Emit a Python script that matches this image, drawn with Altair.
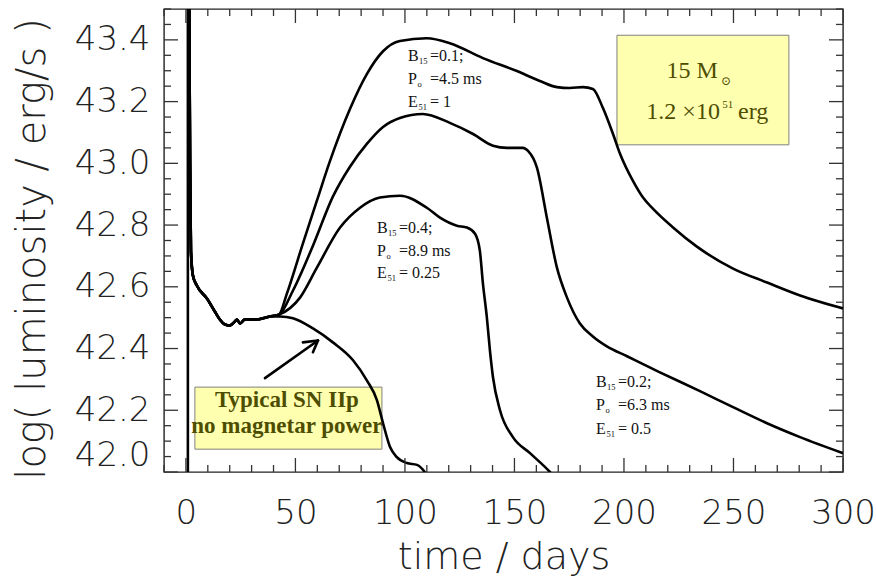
import altair as alt
import pandas as pd

# ---------------- light-curve data (time in days, log10 L in erg/s) ----------------
# shock-breakout spike
spike_day = [0.9, 0.9]
spike_lum = [41.8, 43.7]

# common early cooling phase into the plateau
early_day = [1.4, 1.9, 2.3, 3.2, 5.0, 9.6, 13.2, 15.5, 17.8, 20.1, 22.4, 23.3, 24.7, 26.9, 32.4, 38.4]
early_lum = [43.7, 43.0, 42.717, 42.637, 42.604, 42.562, 42.520, 42.494, 42.478, 42.475, 42.488,
             42.494, 42.481, 42.494, 42.494, 42.504]

# typical SN IIp, no magnetar
iip_day = [42.9, 48.9, 58.0, 67.1, 76.3, 82.6, 87.2, 90.0, 93.2, 96.3, 100.9, 105.5, 109.0, 111.4]
iip_lum = [42.504, 42.498, 42.465, 42.420, 42.362, 42.297, 42.233, 42.158, 42.081, 42.048,
           42.029, 42.023, 42.0, 41.97]

# B15 = 0.1, P0 = 4.5 ms
b01_day = [42.5, 46.1, 53.4, 59.8, 65.8, 74.9, 82.6, 90.0, 97.7, 110.0, 120.5, 135.6, 151.1,
           161.6, 169.4, 175.3, 181.3, 185.8, 190.4, 195.0, 198.2, 204.1, 208.7, 213.2, 222.4,
           233.3, 249.8, 265.3, 280.4, 300.0]
b01_lum = [42.51, 42.578, 42.74, 42.879, 43.008, 43.176, 43.289, 43.363, 43.396, 43.405, 43.389,
           43.341, 43.299, 43.267, 43.247, 43.244, 43.247, 43.241, 43.179, 43.095, 43.031, 42.943,
           42.889, 42.853, 42.792, 42.730, 42.659, 42.614, 42.572, 42.530]

# B15 = 0.2, P0 = 6.3 ms
b02_day = [42.5, 48.9, 58.0, 67.1, 74.9, 82.6, 90.0, 97.7, 108.2, 120.5, 131.1, 140.2, 146.6,
           153.9, 156.2, 160.3, 164.8, 169.4, 174.0, 179.9, 185.8, 192.2, 201.4, 216.4, 234.7,
           249.8, 265.3, 280.4, 300.0]
b02_lum = [42.51, 42.588, 42.733, 42.892, 42.989, 43.063, 43.118, 43.147, 43.160, 43.131, 43.095,
           43.057, 43.050, 43.050, 43.040, 42.985, 42.824, 42.662, 42.565, 42.481, 42.439, 42.407,
           42.375, 42.323, 42.262, 42.210, 42.158, 42.113, 42.061]

# B15 = 0.4, P0 = 8.9 ms
b04_day = [42.5, 52.1, 59.8, 70.3, 79.5, 88.6, 97.7, 110.0, 116.0, 123.7, 128.3, 132.0, 134.2,
           135.6, 137.4, 138.8, 140.2, 143.4, 149.3, 157.1, 166.2, 171.0]
b04_lum = [42.51, 42.565, 42.662, 42.791, 42.856, 42.889, 42.895, 42.856, 42.824, 42.798, 42.792,
           42.772, 42.717, 42.611, 42.501, 42.394, 42.307, 42.200, 42.113, 42.061, 42.0, 41.96]

# axis ticks
x_major = [0, 50, 100, 150, 200, 250, 300]
x_minor = [v for v in range(-10, 301, 10) if v % 50 != 0]
y_major = [42.0, 42.2, 42.4, 42.6, 42.8, 43.0, 43.2, 43.4]
y_minor = [round(42.0 + 0.05 * k, 2) for k in range(31) if k % 4 != 0]

# parameter labels: letter, subscript, remainder, anchor (day, log L)
par_letter = ["B", "P", "E"] * 3
par_sub = ["15", "o", "51"] * 3
par_rest = ["=0.1;", "=4.5 ms", "= 1",
            "=0.4;", "=8.9 ms", "=  0.25",
            "=0.2;", "=6.3 ms", "= 0.5"]
par_day = [101.4] * 3 + [87.2] * 3 + [187.2] * 3
par_lum = [43.331, 43.257, 43.183, 42.775, 42.701, 42.627, 42.275, 42.200, 42.123]

# annotation boxes (day range, log L range)
box_day = [196.8, 4.1]
box_day2 = [275.3, 89.5]
box_lum = [43.415, 42.275]
box_lum2 = [43.060, 42.074]

# "Typical SN IIp" caption
iip_text = ["Typical SN IIp", "no magnetar power"]
iip_text_day = [46.1, 46.1]
iip_text_lum = [42.210, 42.126]

# arrow segments pointing at the no-magnetar curve
arrow_day = [36.1, 60.3, 60.3]
arrow_lum = [42.304, 42.426, 42.426]
arrow_day2 = [60.3, 53.4, 58.0]
arrow_lum2 = [42.426, 42.420, 42.388]

# "15 M_sun / 1.2 x 10^51 erg" box text, built from pieces
mass_text = ["15 M", "1.2 \u00d710", "erg"]
mass_day = [242.9, 243.8, 252.1]
mass_lum = [43.276, 43.144, 43.144]
mass_align = ["right", "right", "left"]
sym_text = ["\u2299", "51"]
sym_day = [244.3, 244.9]
sym_lum = [43.254, 43.180]
sym_size = [12, 11]

W, H = 679, 463
OLIVE = "#4d4d00"
AXFONT = "DejaVu Sans"

xs = alt.Scale(domain=[-10, 300], nice=False, zero=False)
ys = alt.Scale(domain=[42.0, 43.5], nice=False, zero=False)

xaxis = alt.Axis(values=x_major, format="d", tickSize=0, domain=False, grid=False,
                 labelFont=AXFONT, labelFontWeight=200, labelFontSize=34, labelColor="#222",
                 labelPadding=24, labelFlush=False,
                 title="time / days", titleFont=AXFONT, titleFontWeight=200,
                 titleFontSize=38, titleColor="#222", titleBaseline="alphabetic", titleY=96)
yaxis = alt.Axis(values=y_major, format=".1f", tickSize=0, domain=False, grid=False,
                 labelFont=AXFONT, labelFontWeight=200, labelFontSize=34, labelColor="#222",
                 labelPadding=14, labelFlush=True,
                 title="log( luminosity / erg/s )", titleFont=AXFONT, titleFontWeight=200,
                 titleFontSize=40, titleColor="#222", titleBaseline="alphabetic", titleX=-120,
                 titleY=H / 2 + 8, titleAngle=270)


def frame(days, lums, name):
    return pd.DataFrame({"day": days, "lum": lums, "model": name, "i": range(len(days))})


curves = pd.concat([
    frame(early_day + iip_day, early_lum + iip_lum, "no magnetar"),
    frame(early_day + b01_day, early_lum + b01_lum, "B0.1"),
    frame(early_day + b02_day, early_lum + b02_lum, "B0.2"),
    frame(early_day + b04_day, early_lum + b04_lum, "B0.4"),
])
spike = frame(spike_day, spike_lum, "spike")

boxes = pd.DataFrame({"d1": box_day, "d2": box_day2, "l1": box_lum, "l2": box_lum2})
box_layer = alt.Chart(boxes).mark_rect(fill="#ffffb0", stroke="#808080", strokeWidth=1).encode(
    x=alt.X("d1:Q", scale=xs, axis=xaxis), x2="d2:Q",
    y=alt.Y("l1:Q", scale=ys, axis=yaxis), y2="l2:Q")

curve_layer = alt.Chart(curves).mark_line(color="black", strokeWidth=2.6, interpolate="monotone",
                                          clip=True).encode(
    x=alt.X("day:Q", scale=xs), y=alt.Y("lum:Q", scale=ys), detail="model:N", order="i:Q")

spike_layer = alt.Chart(spike).mark_line(color="black", strokeWidth=2.6, clip=True).encode(
    x=alt.X("day:Q", scale=xs), y=alt.Y("lum:Q", scale=ys), order="i:Q")


def ticks(values, side, length):
    df = pd.DataFrame({"v": values})
    ch = alt.Chart(df).mark_rule(color="#333", strokeWidth=1.3)
    if side == "bottom":
        return ch.encode(x=alt.X("v:Q", scale=xs), y=alt.value(H), y2=alt.value(H - length))
    if side == "top":
        return ch.encode(x=alt.X("v:Q", scale=xs), y=alt.value(0), y2=alt.value(length))
    if side == "left":
        return ch.encode(y=alt.Y("v:Q", scale=ys), x=alt.value(0), x2=alt.value(length))
    return ch.encode(y=alt.Y("v:Q", scale=ys), x=alt.value(W), x2=alt.value(W - length))


tick_layers = []
for side in ["bottom", "top"]:
    tick_layers += [ticks(x_major, side, 14), ticks(x_minor, side, 7)]
for side in ["left", "right"]:
    tick_layers += [ticks(y_major, side, 14), ticks(y_minor, side, 7)]

params = pd.DataFrame({"letter": par_letter, "sub": par_sub, "rest": par_rest,
                       "day": par_day, "lum": par_lum})
pbase = alt.Chart(params).encode(x=alt.X("day:Q", scale=xs), y=alt.Y("lum:Q", scale=ys))
par_letters = pbase.mark_text(font="Liberation Serif", fontSize=16, align="left",
                              baseline="alphabetic", color="#111").encode(text="letter:N")
par_rests = pbase.mark_text(font="Liberation Serif", fontSize=16, align="left",
                            baseline="alphabetic", dx=22, color="#111").encode(text="rest:N")
# subscripts sit right after each letter (letters differ in width)
sub_dx = {"B": 11, "P": 9.5, "E": 10.5}
par_subs = [
    pbase.transform_filter(alt.datum.letter == letter).mark_text(
        font="Liberation Serif", fontSize=8.5, align="left", baseline="alphabetic",
        dx=dx, dy=3, color="#111").encode(text="sub:N")
    for letter, dx in sub_dx.items()
]

iip_df = pd.DataFrame({"t": iip_text, "day": iip_text_day, "lum": iip_text_lum})
iip_layer = alt.Chart(iip_df).mark_text(font="Liberation Serif", fontSize=23, fontWeight="bold",
                                        align="center", baseline="alphabetic", color=OLIVE).encode(
    x=alt.X("day:Q", scale=xs), y=alt.Y("lum:Q", scale=ys), text="t:N")

arrow_df = pd.DataFrame({"d1": arrow_day, "l1": arrow_lum, "d2": arrow_day2, "l2": arrow_lum2})
arrow_layer = alt.Chart(arrow_df).mark_rule(color="black", strokeWidth=2.6, strokeCap="round").encode(
    x=alt.X("d1:Q", scale=xs), y=alt.Y("l1:Q", scale=ys), x2="d2:Q", y2="l2:Q")

mass_layers = []
for t, d, l, a in zip(mass_text, mass_day, mass_lum, mass_align):
    mass_layers.append(alt.Chart(pd.DataFrame({"t": [t], "day": [d], "lum": [l]})).mark_text(
        font="Liberation Serif", fontSize=24, align=a, baseline="alphabetic", color=OLIVE).encode(
        x=alt.X("day:Q", scale=xs), y=alt.Y("lum:Q", scale=ys), text="t:N"))
for t, d, l, s in zip(sym_text, sym_day, sym_lum, sym_size):
    mass_layers.append(alt.Chart(pd.DataFrame({"t": [t], "day": [d], "lum": [l]})).mark_text(
        font="DejaVu Serif" if t == "\u2299" else "Liberation Serif", fontSize=s, align="left",
        baseline="alphabetic", color=OLIVE).encode(
        x=alt.X("day:Q", scale=xs), y=alt.Y("lum:Q", scale=ys), text="t:N"))

chart = alt.layer(
    box_layer, curve_layer, spike_layer, *tick_layers, arrow_layer,
    par_letters, *par_subs, par_rests, iip_layer, *mass_layers
).properties(
    width=W, height=H,
    padding={"left": 164, "top": 9, "right": 33, "bottom": 107},
    autosize=alt.AutoSizeParams(type="none"),
    background="white",
).configure_view(stroke="#222", strokeWidth=1.4)

chart.save("out.html", embed_options={"renderer": "svg", "actions": False})
